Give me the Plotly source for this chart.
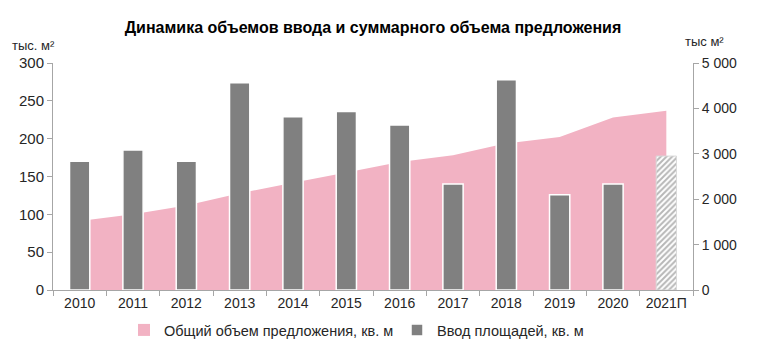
import plotly.graph_objects as go

categories = ["2010", "2011", "2012", "2013", "2014", "2015", "2016", "2017", "2018", "2019", "2020", "2021П"]
supply_total = [1520, 1670, 1860, 2130, 2360, 2590, 2820, 2970, 3230, 3370, 3800, 3950]  # тыс м², right axis
commissioning = [170, 185, 170, 274, 229, 236, 218, 140, 278, 126, 140, 177]  # тыс. м², left axis

PINK = "#F2B2C3"
GREY = "#808080"
AXIS = "#A6A6A6"
TXT = "#262626"
FONT = "Liberation Sans, Arial, sans-serif"

fig = go.Figure()

fig.add_trace(go.Scatter(
    x=categories, y=supply_total, yaxis="y",
    mode="none", fill="tozeroy", fillcolor=PINK,
    name="Общий объем предложения, кв. м", showlegend=False,
))

# legend entry for the area (square swatch as in the reference); zero-height, invisible bar
fig.add_trace(go.Bar(
    x=categories[:1], y=[0], yaxis="y2", marker=dict(color=PINK, line=dict(width=0)),
    name="Общий объем предложения, кв. м", hoverinfo="skip",
))

fig.add_trace(go.Bar(
    x=categories[:-1], y=commissioning[:-1], yaxis="y2",
    marker=dict(color=GREY, line=dict(color="white", width=1.5)),
    name="Ввод площадей, кв. м",
))

fig.add_trace(go.Bar(
    x=categories[-1:], y=commissioning[-1:], yaxis="y2",
    marker=dict(color="white", line=dict(color="#D9D9D9", width=1),
                pattern=dict(shape="/", fgcolor="#707070", bgcolor="white", size=4, solidity=0.5)),
    name="Ввод площадей (прогноз)", showlegend=False,
))

fig.update_layout(
    width=759, height=346,
    margin=dict(l=53, r=66, t=63, b=56, autoexpand=False),
    paper_bgcolor="white", plot_bgcolor="white",
    font=dict(family=FONT, size=14, color=TXT),
    separators=", ",
    barmode="overlay", bargap=0.62,
    title=dict(text="<b>Динамика объемов ввода и суммарного объема предложения</b>",
               x=0.5, xref="paper", xanchor="center", y=1 - 27 / 346, yanchor="middle",
               font=dict(size=16, color="black")),
    xaxis=dict(type="category", showline=True, linecolor=AXIS, linewidth=1, automargin=False,
               ticks="outside", tickson="boundaries", ticklen=5, tickcolor=AXIS,
               showgrid=False, tickfont=dict(size=14)),
    yaxis=dict(side="right", range=[0, 5000], dtick=1000, showline=True, linecolor=AXIS,
               ticks="outside", ticklen=5, tickcolor=AXIS, showgrid=False, zeroline=False,
               separatethousands=True, tickfont=dict(size=14), automargin=False),
    yaxis2=dict(side="left", overlaying="y", range=[0, 300], dtick=50, showline=True,
                linecolor=AXIS, ticks="outside", ticklen=5, tickcolor=AXIS, showgrid=False,
                zeroline=False, tickfont=dict(size=15), automargin=False),
    legend=dict(orientation="h", xref="container", yref="container",
                x=(164 - 40) / 759, xanchor="left", y=1 - 330 / 346, yanchor="middle",
                entrywidth=228, entrywidthmode="pixels",
                font=dict(size=14.5), bgcolor="rgba(0,0,0,0)"),
    annotations=[
        dict(text="тыс. м²", xref="paper", yref="paper", x=(10 - 53) / 640, y=(290 - 45) / 227,
             xanchor="left", yanchor="middle", showarrow=False, font=dict(size=13)),
        dict(text="тыс м²", xref="paper", yref="paper", x=(683 - 53) / 640, y=(290 - 42) / 227,
             xanchor="left", yanchor="middle", showarrow=False, font=dict(size=13)),
    ],
)

fig.write_html("out.html")
